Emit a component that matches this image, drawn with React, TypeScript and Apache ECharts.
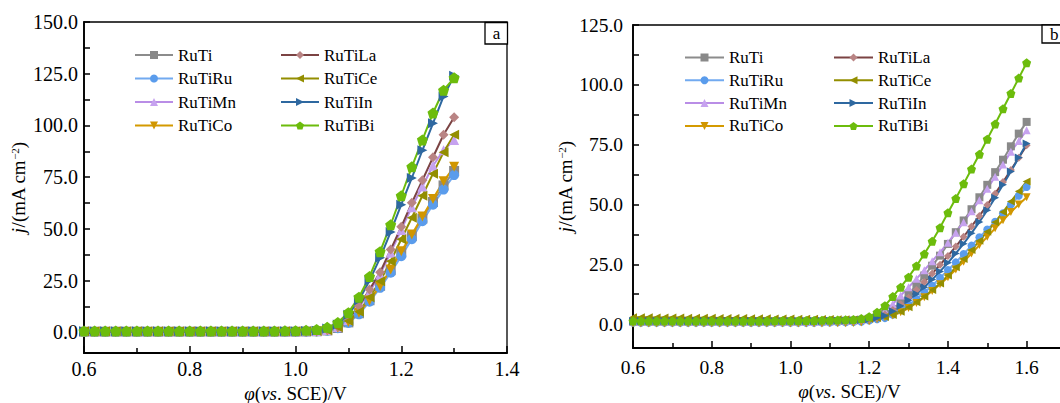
import React, { useEffect, useRef } from "react";
import * as echarts from "echarts";

const FONT = "'Liberation Serif', 'Times New Roman', serif";

const seriesNames = ["RuTi", "RuTiRu", "RuTiMn", "RuTiCo", "RuTiLa", "RuTiCe", "RuTiIn", "RuTiBi"];
const lineColors = ["#8c8c8c", "#72aaf0", "#b98de6", "#d49a00", "#7b4343", "#938e00", "#2e68a0", "#6cbc0c"];
const markerColors = ["#898989", "#5a9cec", "#c6a2ef", "#d09600", "#b98484", "#938e00", "#2e68a0", "#6cbc0c"];
const PENTAGON = "path://M0,-10 L9.51,-3.09 L5.88,8.09 L-5.88,8.09 L-9.51,-3.09 Z";
const symbols = ["rect", "circle", "triangle", "triangle", "diamond", "triangle", "triangle", PENTAGON];
const symbolRotates = [0, 0, 0, 180, 0, 90, -90, 0];

// Panel a
const potentialA = [
  0.6, 0.62, 0.64, 0.66, 0.68, 0.7, 0.72, 0.74, 0.76, 0.78,
  0.8, 0.82, 0.84, 0.86, 0.88, 0.9, 0.92, 0.94, 0.96, 0.98,
  1.0, 1.02, 1.04, 1.06, 1.08, 1.1, 1.12, 1.14, 1.16, 1.18,
  1.2, 1.22, 1.24, 1.26, 1.28, 1.3,
];
const ruTiA = [
  0.3, 0.3, 0.3, 0.3, 0.3, 0.3, 0.3, 0.3, 0.3, 0.3,
  0.3, 0.3, 0.3, 0.3, 0.3, 0.3, 0.3, 0.3, 0.3, 0.3,
  0.3, 0.4, 0.5, 0.9, 2.1, 4.8, 9.2, 15.5, 22.5, 30,
  38.5, 46.5, 55, 63, 71, 78,
];
const ruTiRuA = [
  0.2, 0.2, 0.2, 0.2, 0.2, 0.2, 0.2, 0.2, 0.2, 0.2,
  0.2, 0.2, 0.2, 0.2, 0.2, 0.2, 0.2, 0.2, 0.2, 0.2,
  0.2, 0.3, 0.4, 0.8, 2.0, 4.5, 8.7, 14.8, 21.5, 28.8,
  36.8, 45, 53.7, 61.7, 69, 76,
];
const ruTiMnA = [
  0.4, 0.4, 0.4, 0.4, 0.4, 0.4, 0.4, 0.4, 0.4, 0.4,
  0.4, 0.4, 0.4, 0.4, 0.4, 0.4, 0.4, 0.4, 0.4, 0.4,
  0.4, 0.5, 0.6, 1.1, 2.6, 6.0, 12, 19.5, 28, 38.5,
  49.5, 60.5, 70.5, 80.5, 88, 93,
];
const ruTiCoA = [
  0.1, 0.1, 0.1, 0.1, 0.1, 0.1, 0.1, 0.1, 0.1, 0.1,
  0.1, 0.1, 0.1, 0.1, 0.1, 0.1, 0.1, 0.1, 0.1, 0.1,
  0.1, 0.2, 0.3, 0.9, 2.2, 5.0, 9.5, 15.4, 22.3, 30.4,
  39.2, 47.3, 56, 64.5, 73, 80,
];
const ruTiLaA = [
  0.4, 0.4, 0.4, 0.4, 0.4, 0.4, 0.4, 0.4, 0.4, 0.4,
  0.4, 0.4, 0.4, 0.4, 0.4, 0.4, 0.4, 0.4, 0.4, 0.4,
  0.4, 0.5, 0.6, 1.2, 2.8, 6.5, 12.7, 20.7, 29, 40,
  51, 62.6, 73.5, 84.6, 95.5, 104,
];
const ruTiCeA = [
  0.5, 0.5, 0.5, 0.5, 0.5, 0.5, 0.5, 0.5, 0.5, 0.5,
  0.5, 0.5, 0.5, 0.5, 0.5, 0.5, 0.5, 0.5, 0.5, 0.5,
  0.5, 0.5, 0.6, 1.0, 2.4, 5.5, 10, 17, 24.7, 34.4,
  45, 55.4, 66, 76.7, 87, 95.5,
];
const ruTiInA = [
  0.5, 0.5, 0.5, 0.5, 0.5, 0.5, 0.5, 0.5, 0.5, 0.5,
  0.5, 0.5, 0.5, 0.5, 0.5, 0.5, 0.5, 0.5, 0.5, 0.5,
  0.5, 0.6, 0.8, 1.8, 3.8, 8.5, 15.5, 25, 36, 48.5,
  61.7, 74.6, 88, 101, 114, 124,
];
const ruTiBiA = [
  0.6, 0.6, 0.6, 0.6, 0.6, 0.6, 0.6, 0.6, 0.6, 0.6,
  0.6, 0.6, 0.6, 0.6, 0.6, 0.6, 0.6, 0.6, 0.6, 0.7,
  0.8, 1.0, 1.4, 2.4, 4.7, 9.5, 17, 27, 39, 52,
  66, 80, 93, 106, 117, 123,
];

// Panel b
const potentialB = [
  0.6, 0.62, 0.64, 0.66, 0.68, 0.7, 0.72, 0.74, 0.76, 0.78,
  0.8, 0.82, 0.84, 0.86, 0.88, 0.9, 0.92, 0.94, 0.96, 0.98,
  1.0, 1.02, 1.04, 1.06, 1.08, 1.1, 1.12, 1.14, 1.16, 1.18,
  1.2, 1.22, 1.24, 1.26, 1.28, 1.3, 1.32, 1.34, 1.36, 1.38,
  1.4, 1.42, 1.44, 1.46, 1.48, 1.5, 1.52, 1.54, 1.56, 1.58,
  1.6,
];
const ruTiB = [
  0.9, 0.9, 0.9, 0.9, 0.9, 0.9, 0.9, 0.9, 0.9, 0.9,
  0.9, 0.9, 0.9, 0.9, 0.9, 0.9, 0.9, 0.9, 0.9, 0.9,
  1.0, 1.0, 1.0, 1.1, 1.1, 1.2, 1.3, 1.4, 1.5, 1.8,
  2.2, 2.8, 4.2, 6.3, 9, 12.6, 16, 20.3, 24.4, 28.6,
  33.5, 38.4, 43.3, 48, 53, 58.2, 63.5, 68.7, 74.3, 79.6,
  84.5,
];
const ruTiRuB = [
  0.5, 0.5, 0.5, 0.5, 0.5, 0.5, 0.5, 0.5, 0.5, 0.5,
  0.5, 0.5, 0.5, 0.5, 0.5, 0.5, 0.5, 0.5, 0.5, 0.5,
  0.5, 0.5, 0.5, 0.5, 0.6, 0.6, 0.7, 0.7, 0.8, 1.0,
  1.5, 2.0, 2.5, 3.9, 5.9, 8.1, 10.5, 13.3, 16, 19.3,
  22.6, 25.8, 29.3, 32.8, 36.3, 39.5, 42.8, 46.3, 50, 53.6,
  57.3,
];
const ruTiMnB = [
  1.0, 1.0, 1.0, 1.0, 1.0, 1.0, 1.0, 1.0, 1.0, 1.0,
  1.0, 1.0, 1.0, 1.0, 1.0, 1.0, 1.0, 1.0, 1.0, 1.0,
  1.0, 1.0, 1.1, 1.1, 1.2, 1.2, 1.3, 1.4, 1.5, 1.9,
  2.5, 3.9, 5.6, 8.4, 11.9, 15.4, 18.9, 22.5, 26.3, 30,
  34, 38.2, 42.6, 47.2, 51.8, 56.6, 61.6, 66.7, 72, 76.5,
  81,
];
const ruTiCoB = [
  0.2, 0.2, 0.2, 0.2, 0.2, 0.2, 0.2, 0.2, 0.2, 0.2,
  0.2, 0.2, 0.2, 0.2, 0.2, 0.2, 0.2, 0.2, 0.2, 0.2,
  0.2, 0.2, 0.2, 0.2, 0.2, 0.3, 0.3, 0.3, 0.4, 0.7,
  1.2, 2.0, 2.8, 3.6, 4.9, 6.7, 8.8, 11.2, 13.8, 16.6,
  19.6, 22.8, 26.1, 29.5, 33, 36.5, 40, 43.4, 46.8, 50,
  53,
];
const ruTiLaB = [
  1.0, 1.0, 1.0, 1.0, 1.0, 1.0, 1.0, 1.0, 1.0, 1.0,
  1.0, 1.0, 1.0, 1.0, 1.0, 1.0, 1.0, 1.0, 1.0, 1.0,
  1.0, 1.0, 1.0, 1.1, 1.1, 1.1, 1.2, 1.2, 1.3, 1.6,
  2.0, 2.6, 4.0, 5.9, 8.3, 11, 14.2, 17.6, 21.1, 24.8,
  28.5, 32.4, 36.5, 40.8, 45.2, 49.8, 54.5, 59.4, 64.4, 69.5,
  74.7,
];
const ruTiCeB = [
  2.8, 2.8, 2.8, 2.7, 2.7, 2.7, 2.7, 2.6, 2.6, 2.6,
  2.6, 2.5, 2.5, 2.5, 2.5, 2.4, 2.4, 2.4, 2.3, 2.3,
  2.3, 2.2, 2.2, 2.2, 2.1, 2.1, 2.0, 2.0, 1.9, 2.0,
  2.2, 2.5, 3.0, 3.8, 5.2, 7, 9.1, 11.5, 14.2, 17,
  20.3, 23.7, 27.2, 31, 34.8, 38.6, 42.6, 46.8, 51.2, 55.5,
  59.6,
];
const ruTiInB = [
  1.3, 1.3, 1.3, 1.3, 1.3, 1.3, 1.3, 1.3, 1.3, 1.3,
  1.3, 1.3, 1.3, 1.3, 1.3, 1.3, 1.3, 1.3, 1.3, 1.3,
  1.3, 1.3, 1.3, 1.3, 1.3, 1.4, 1.4, 1.4, 1.5, 1.7,
  2.0, 2.6, 3.5, 5.4, 7.6, 10, 12.6, 15.4, 18.6, 22,
  25.6, 29.5, 33.6, 38, 42.7, 47.6, 52.8, 58.2, 63.8, 69.6,
  75.5,
];
const ruTiBiB = [
  1.3, 1.3, 1.3, 1.3, 1.3, 1.3, 1.3, 1.3, 1.3, 1.3,
  1.3, 1.3, 1.3, 1.3, 1.3, 1.3, 1.3, 1.3, 1.4, 1.4,
  1.4, 1.4, 1.5, 1.5, 1.6, 1.6, 1.7, 1.8, 1.9, 2.3,
  3.1, 4.9, 7.7, 11.5, 15.4, 19.6, 24.3, 29.3, 34.6, 40.3,
  46.5, 52.5, 58.6, 64.8, 71, 77.3, 83.6, 90, 96.4, 102.8,
  109.2,
];

const valuesA = [ruTiA, ruTiRuA, ruTiMnA, ruTiCoA, ruTiLaA, ruTiCeA, ruTiInA, ruTiBiA];
const valuesB = [ruTiB, ruTiRuB, ruTiMnB, ruTiCoB, ruTiLaB, ruTiCeB, ruTiInB, ruTiBiB];

const yTicksA = [0, 12.5, 25, 37.5, 50, 62.5, 75, 87.5, 100, 112.5, 125, 137.5, 150];
const yLabelsA = [0, 25, 50, 75, 100, 125, 150];
const yTicksB = [0, 12.5, 25, 37.5, 50, 62.5, 75, 87.5, 100, 112.5, 125];
const yLabelsB = [0, 25, 50, 75, 100, 125];

const xName = "{i|φ}({i|vs}. SCE)/V";
const yName = "{i|j}/(mA cm{s|−2})";

function App() {
  const ref = useRef<HTMLDivElement>(null);
  useEffect(() => {
    if (!ref.current) return;
    const chart = echarts.init(ref.current, null, { renderer: "svg" });

    const nameStyle = (size: number) => ({
      fontFamily: FONT,
      fontSize: size,
      lineHeight: size,
      color: "#000",
      rich: {
        i: { fontFamily: FONT, fontSize: size, lineHeight: size, fontStyle: "italic", color: "#000" },
        s: { fontFamily: FONT, fontSize: 11, color: "#000", verticalAlign: "top" },
      },
    });

    const mkX = (gridIndex: number, max: number, labelSize: number, margin: number, gap: number) => ({
      type: "value",
      gridIndex,
      min: 0.6,
      max,
      interval: 0.2,
      name: xName,
      nameLocation: "middle",
      nameGap: gap,
      nameTextStyle: nameStyle(19),
      axisLine: { show: true, onZero: false, lineStyle: { color: "#000", width: 1.8 } },
      axisTick: { show: true, inside: true, length: 7, lineStyle: { color: "#000", width: 1.5 } },
      minorTick: { show: true, splitNumber: 2, length: 5, lineStyle: { color: "#000", width: 1.5 } },
      axisLabel: {
        color: "#000",
        fontFamily: FONT,
        fontSize: labelSize,
        margin,
        showMaxLabel: gridIndex === 0,
        formatter: (v: number) => v.toFixed(1),
      },
      splitLine: { show: false },
    });

    const mkY = (gridIndex: number, max: number, ticks: number[], labels: number[], labelSize: number, margin: number, gap: number) => ({
      type: "value",
      gridIndex,
      min: -10,
      max,
      name: yName,
      nameLocation: "middle",
      nameGap: gap,
      nameTextStyle: nameStyle(19),
      axisLine: { show: true, onZero: false, lineStyle: { color: "#000", width: 1.8 } },
      axisTick: { show: true, inside: true, length: 6, customValues: ticks, lineStyle: { color: "#000", width: 1.5 } },
      axisLabel: {
        color: "#000",
        fontFamily: FONT,
        fontSize: labelSize,
        margin,
        customValues: labels,
        formatter: (v: number) => v.toFixed(1),
      },
      splitLine: { show: false },
    });

    const mkSeries = (gridIndex: number, xs: number[], vals: number[][], size: number) =>
      seriesNames.map((name, k) => ({
        type: "line",
        name,
        xAxisIndex: gridIndex,
        yAxisIndex: gridIndex,
        data: xs.map((x, i) => [x, vals[k][i]]),
        symbol: symbols[k],
        symbolRotate: symbolRotates[k],
        symbolSize: k === 7 ? size + 1 : size,
        showSymbol: true,
        showAllSymbol: true,
        lineStyle: { color: lineColors[k], width: 2 },
        itemStyle: { color: markerColors[k] },
        emphasis: { disabled: true },
      }));

    const legendBase = {
      orient: "vertical",
      selectedMode: false,
      itemHeight: 10,
      textStyle: { fontFamily: FONT, fontSize: 17, color: "#000", lineHeight: 20 },
    };

    const option = {
      animation: false,
      grid: [
        { left: 84, top: 22, width: 423, height: 331, show: true, borderColor: "#000", borderWidth: 1.3, containLabel: false, outerBoundsMode: "none" },
        { left: 633, top: 25, width: 433, height: 323, show: true, borderColor: "#000", borderWidth: 1.3, containLabel: false, outerBoundsMode: "none" },
      ],
      xAxis: [mkX(0, 1.4, 20, 6, 31), mkX(1, 1.7, 19.5, 9, 33)],
      yAxis: [mkY(0, 150, yTicksA, yLabelsA, 20, 6, 56), mkY(1, 125, yTicksB, yLabelsB, 19.5, 10, 55)],
      legend: [
        { ...legendBase, data: seriesNames.slice(0, 4), left: 129, top: 40, itemWidth: 38, itemGap: 3.5 },
        { ...legendBase, data: seriesNames.slice(4), left: 275, top: 40, itemWidth: 38, itemGap: 3.5 },
        { ...legendBase, data: seriesNames.slice(0, 4), left: 679, top: 42.5, itemWidth: 39, itemGap: 2.8 },
        { ...legendBase, data: seriesNames.slice(4), left: 828, top: 42.5, itemWidth: 39, itemGap: 2.8 },
      ],
      graphic: [
        {
          type: "group",
          children: [
            { type: "rect", shape: { x: 485, y: 22.5, width: 22.5, height: 21.5 }, style: { fill: "#fff", stroke: "#000", lineWidth: 1.3 }, z: 100 },
            { type: "text", x: 496.5, y: 33.5, style: { text: "a", fontFamily: FONT, fontSize: 17, fill: "#000", align: "center", verticalAlign: "middle" }, z: 101 },
            { type: "rect", shape: { x: 1042, y: 25, width: 30, height: 18 }, style: { fill: "#fff", stroke: "#000", lineWidth: 1.3 }, z: 100 },
            { type: "text", x: 1050, y: 34, style: { text: "b", fontFamily: FONT, fontSize: 17, fill: "#000", align: "left", verticalAlign: "middle" }, z: 101 },
          ],
        },
      ],
      series: [...mkSeries(0, potentialA, valuesA, 10), ...mkSeries(1, potentialB, valuesB, 8)],
    };

    chart.setOption(option as any);
    return () => chart.dispose();
  }, []);

  return (
    <div
      ref={ref}
      style={{ position: "fixed", left: 0, top: 0, width: 1060, height: 403, background: "#fff" }}
    />
  );
}

export default App;
